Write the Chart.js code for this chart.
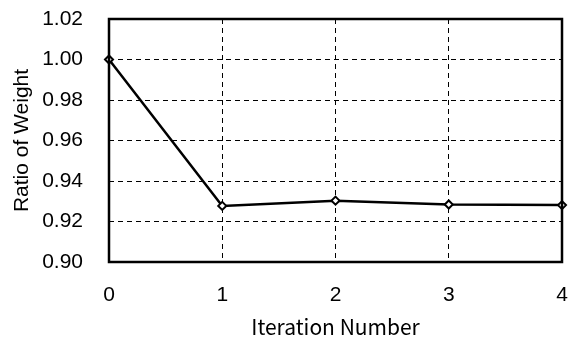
<!DOCTYPE html>
<html>
<head>
<meta charset="utf-8">
<script src="https://cdn.jsdelivr.net/npm/chart.js@4/dist/chart.umd.min.js"></script>
<style>
html,body{margin:0;padding:0;background:#fff;}
#wrap{width:572px;height:338px;}
</style>
</head>
<body>
<div id="wrap"><canvas id="c" width="572" height="338"></canvas></div>
<script>
const iterations = [0, 1, 2, 3, 4];
const ratioOfWeight = [1.000, 0.9277, 0.9303, 0.9284, 0.9281];
const yTicks = [0.90, 0.92, 0.94, 0.96, 0.98, 1.00, 1.02];
const xTitle = 'Iteration Number';
const yTitle = 'Ratio of Weight';

const FONT = '"Liberation Sans", Arial, sans-serif';
const JFONT = '"Noto Sans CJK JP", "DejaVu Sans", sans-serif';

const frame = {
  id: 'frame',
  afterDatasetsDraw(chart) {
    const a = chart.chartArea, ctx = chart.ctx;
    ctx.save();
    ctx.strokeStyle = '#000';
    ctx.lineWidth = 2.5;
    ctx.strokeRect(a.left, a.top, a.right - a.left, a.bottom - a.top);
    ctx.restore();
  }
};

new Chart(document.getElementById('c'), {
  type: 'line',
  data: {
    labels: iterations,
    datasets: [{
      data: iterations.map((x, i) => ({x: x, y: ratioOfWeight[i]})),
      borderColor: '#000',
      borderWidth: 2.5,
      tension: 0,
      pointStyle: 'rectRot',
      pointRadius: 4,
      pointBackgroundColor: '#fff',
      pointBorderColor: '#000',
      pointBorderWidth: 2,
      clip: false
    }]
  },
  options: {
    responsive: false,
    animation: false,
    devicePixelRatio: 1,
    layout: {padding: {top: 19, right: 10, left: 0, bottom: 0}},
    plugins: {legend: {display: false}, tooltip: {enabled: false}},
    scales: {
      x: {
        type: 'linear',
        min: 0, max: 4,
        afterFit(s) { s.height = 76; s.paddingLeft = 0; s.paddingRight = 0; },
        afterBuildTicks(s) { s.ticks = iterations.map(v => ({value: v})); },
        grid: {color: '#000', lineWidth: 1, drawTicks: false},
        border: {display: false, dash: [5, 4]},
        ticks: {color: '#000', padding: 21, maxRotation: 0, font: {family: FONT, size: 21}, callback: v => String(v)},
        title: {display: true, text: xTitle, color: '#000', font: {family: JFONT, size: 21, lineHeight: 1.0}, padding: {top: 0, bottom: 0}}
      },
      y: {
        min: 0.90, max: 1.02,
        afterFit(s) { s.width = 109; s.paddingTop = 0; s.paddingBottom = 0; },
        afterBuildTicks(s) { s.ticks = yTicks.map(v => ({value: v})); },
        grid: {color: '#000', lineWidth: 1, drawTicks: false},
        border: {display: false, dash: [5, 4]},
        ticks: {color: '#000', padding: 26, font: {family: FONT, size: 21}, callback: v => v.toFixed(2)},
        title: {display: true, text: yTitle, color: '#000', font: {family: FONT, size: 21, lineHeight: 1.0}, padding: {top: 12, bottom: 0}}
      }
    }
  },
  plugins: [frame]
});
</script>
</body>
</html>
